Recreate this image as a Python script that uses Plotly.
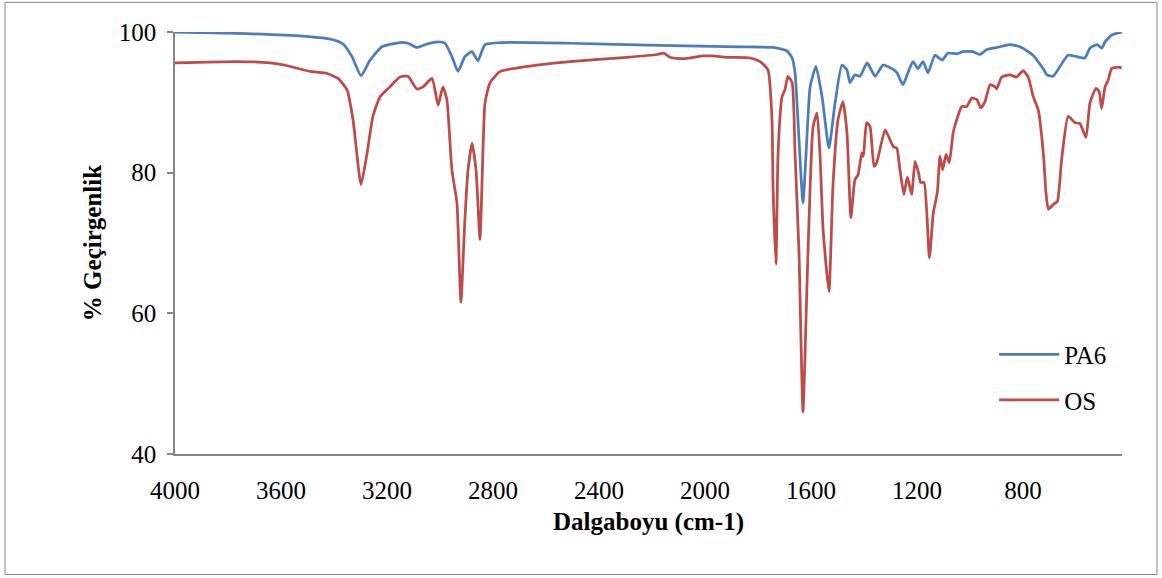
import plotly.graph_objects as go

# PA6 spectrum (wavenumber cm-1, % transmittance)
pa6_wn = [4000, 3766, 3517, 3404, 3366, 3332, 3298, 3264, 3219, 3151, 3121, 3087, 3049,
          3007, 2981, 2955, 2932, 2906, 2879, 2857, 2830, 2762, 2509, 2170, 1868, 1743,
          1690, 1671, 1660, 1649, 1630, 1615, 1603, 1581, 1558, 1532, 1509, 1483, 1464,
          1453, 1434, 1415, 1388, 1358, 1328, 1294, 1275, 1253, 1234, 1215, 1196, 1177,
          1158, 1132, 1105, 1083, 1049, 1026, 989, 962, 936, 898, 849, 811, 762, 724,
          709, 686, 660, 630, 596, 566, 547, 520, 502, 490, 464, 426]
pa6_t = [100.0, 99.8, 99.4, 98.9, 98.3, 96.5, 93.8, 96.0, 97.9, 98.5, 98.4, 97.8, 98.3,
         98.6, 98.4, 96.5, 94.4, 96.5, 97.2, 95.9, 98.2, 98.5, 98.4, 98.1, 97.9, 97.8,
         97.3, 96.3, 94.2, 87.5, 75.7, 85.1, 92.2, 95.1, 90.8, 83.5, 89.9, 95.3, 94.6,
         92.8, 93.9, 93.7, 95.6, 93.7, 95.3, 94.8, 94.2, 92.5, 94.2, 95.8, 94.8, 95.8,
         94.2, 96.7, 96.0, 97.0, 96.9, 97.2, 97.2, 96.8, 97.5, 97.8, 98.2, 97.9, 96.7, 94.8,
         93.9, 93.7, 95.1, 96.7, 96.5, 96.3, 97.7, 98.2, 97.7, 98.6, 99.6, 100.0]

# OS spectrum
os_wn = [4000, 3766, 3641, 3577, 3490, 3426, 3385, 3351, 3328, 3298, 3275, 3253, 3226,
         3189, 3151, 3121, 3087, 3064, 3030, 3007, 2989, 2974, 2955, 2936, 2921, 2906,
         2894, 2879, 2864, 2849, 2838, 2830, 2811, 2773, 2724, 2634, 2509, 2294, 2181,
         2155, 2132, 2083, 2007, 1970, 1917, 1830, 1792, 1762, 1747, 1743, 1732, 1724,
         1709, 1698, 1687, 1671, 1660, 1645, 1630, 1615, 1603, 1592, 1577, 1566, 1554,
         1532, 1517, 1498, 1479, 1464, 1449, 1434, 1422, 1408, 1402, 1390, 1377, 1362,
         1352, 1320, 1302, 1289, 1276, 1264, 1249, 1236, 1220, 1207, 1194, 1186, 1173,
         1153, 1138, 1123, 1113, 1103, 1090, 1078, 1063, 1050, 1031, 1012, 993, 974,
         959, 943, 924, 905, 899, 880, 849, 824, 799, 780, 761, 742, 723, 713, 704,
         685, 670, 654, 629, 603, 585, 562, 547, 524, 512, 503, 490, 478, 465, 440, 427]
os_t = [95.6, 95.8, 95.6, 95.2, 94.4, 94.1, 93.4, 91.8, 87.5, 78.3, 82.8, 88.0, 90.8,
        92.2, 93.6, 93.7, 91.9, 92.2, 93.4, 89.6, 92.2, 90.4, 80.4, 75.7, 61.6, 73.3,
        80.4, 84.2, 80.4, 70.5, 82.8, 89.9, 92.8, 94.4, 94.8, 95.3, 95.8, 96.4, 96.8,
        97.0, 96.4, 96.2, 96.6, 96.6, 96.4, 96.3, 95.8, 94.6, 87.5, 78.0, 67.0, 82.8,
        90.8, 91.8, 93.7, 92.8, 82.8, 68.6, 46.0, 63.8, 78.0, 86.5, 88.5, 82.8, 71.9,
        63.1, 78.0, 87.5, 90.1, 85.7, 73.6, 79.0, 79.7, 82.8, 82.3, 87.1, 86.6, 80.9,
        81.4, 86.1, 84.7, 83.7, 83.5, 80.4, 76.9, 79.4, 76.9, 81.6, 80.0, 78.6, 78.6,
        67.9, 74.3, 77.2, 82.3, 80.4, 82.6, 81.4, 85.7, 87.5, 89.4, 89.4, 90.6, 90.4,
        89.2, 90.1, 92.5, 92.2, 91.9, 93.6, 93.9, 93.6, 94.5, 93.6, 90.8, 88.9, 82.8, 77.2, 74.8,
        75.5, 75.9, 81.8, 88.0, 87.1, 87.0, 85.0, 89.9, 92.0, 91.5, 89.1, 92.2, 93.2, 94.8, 95.0, 94.9]

x_ticks = [4000, 3600, 3200, 2800, 2400, 2000, 1600, 1200, 800]
y_ticks = [40, 60, 80, 100]

FONT = "Liberation Serif"
AXIS_COLOR = "#868686"

fig = go.Figure()
fig.add_trace(go.Scatter(x=pa6_wn, y=pa6_t, mode="lines", name="PA6",
                         legendgroup="a",
                         line=dict(color="#4A7EBB", width=2.75, shape="spline", smoothing=0.5)))
fig.add_trace(go.Scatter(x=os_wn, y=os_t, mode="lines", name="OS",
                         legendgroup="b",
                         line=dict(color="#BE4B48", width=2.75, shape="spline", smoothing=0.5)))

fig.update_layout(
    width=1162, height=578,
    margin=dict(l=175, r=40, t=32, b=124, autoexpand=False),
    paper_bgcolor="white", plot_bgcolor="white",
    font=dict(family=FONT, size=25, color="black"),
    showlegend=True,
    legend=dict(x=0.865, y=0.29, xanchor="left", yanchor="top",
                bgcolor="rgba(0,0,0,0)", font=dict(size=25),
                tracegroupgap=10, itemwidth=60),
    xaxis=dict(range=[4000, 426], tickmode="array", tickvals=x_ticks,
               ticktext=[str(v) for v in x_ticks],
               showgrid=False, zeroline=False, showline=True,
               linecolor=AXIS_COLOR, linewidth=1.5, ticks="",
               ticklabelstandoff=13,
               title=dict(text="Dalgaboyu (cm-1)", standoff=10,
                          font=dict(size=25, weight="bold"))),
    yaxis=dict(range=[40, 100], tickmode="array", tickvals=y_ticks,
               showgrid=False, zeroline=False, showline=True,
               linecolor=AXIS_COLOR, linewidth=1.5, ticks="outside",
               ticklen=6, tickcolor=AXIS_COLOR, tickwidth=1.5,
               ticklabelstandoff=6,
               title=dict(text="% Geçirgenlik", standoff=10,
                          font=dict(size=25, weight="bold"))),
    shapes=[dict(type="rect", xref="paper", yref="paper",
                 x0=(5 - 175) / 947, x1=(1157 - 175) / 947,
                 y0=(453.5 - 574) / 421.8, y1=(453.5 - 2) / 421.8,
                 line=dict(color=AXIS_COLOR, width=1), layer="below")],
)

fig.write_html("out.html")
